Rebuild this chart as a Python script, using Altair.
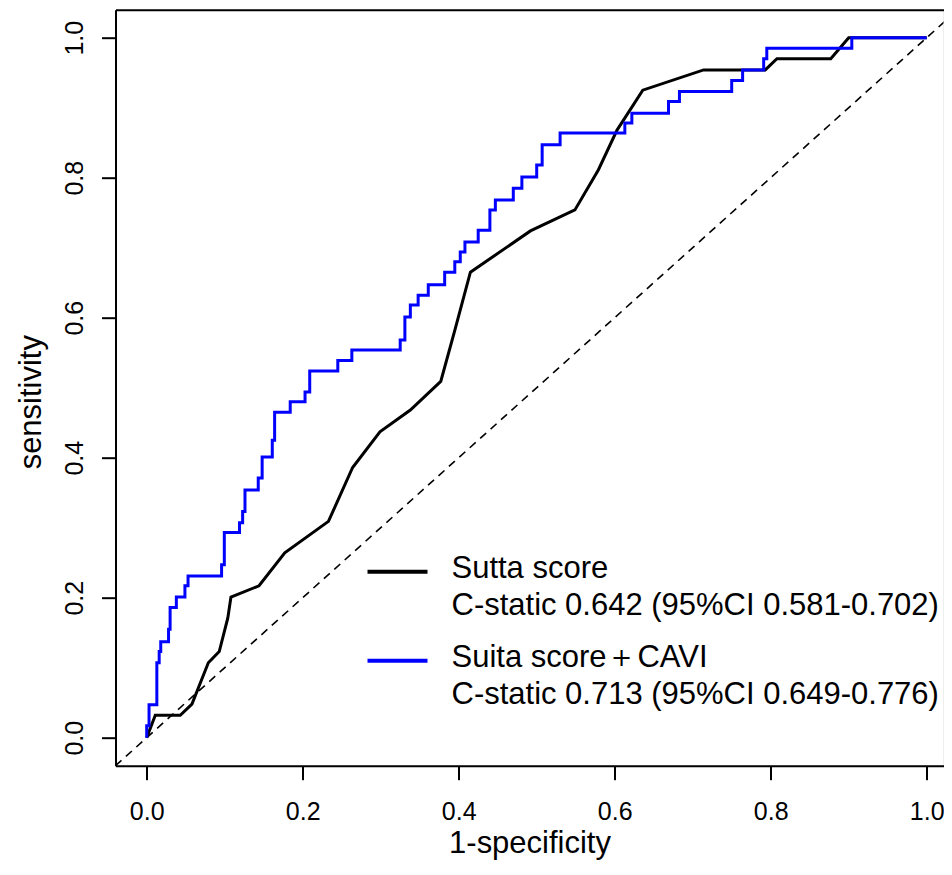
import altair as alt
import pandas as pd

# ---- data ----
series_names = ["Sutta score", "Suita score＋CAVI"]
series_stats = ["C-static 0.642 (95%CI 0.581-0.702)", "C-static 0.713 (95%CI 0.649-0.776)"]
series_colors = ["#000000", "#0000FF"]

sutta_fpr = [0.0, 0.011, 0.043, 0.058, 0.079, 0.093, 0.104, 0.108, 0.144, 0.177, 0.233,
             0.264, 0.299, 0.338, 0.377, 0.395, 0.415, 0.492, 0.549, 0.579, 0.603, 0.636,
             0.714, 0.793, 0.808, 0.877, 0.900, 1.0]
sutta_tpr = [0.0, 0.032, 0.032, 0.048, 0.107, 0.123, 0.171, 0.201, 0.217, 0.264, 0.309,
             0.386, 0.437, 0.468, 0.509, 0.582, 0.665, 0.724, 0.754, 0.811, 0.868, 0.925,
             0.954, 0.954, 0.970, 0.970, 1.0, 1.0]

suita_fpr = [0.0, 0.0, 0.003, 0.003, 0.013, 0.013, 0.016, 0.016, 0.018, 0.018, 0.028, 0.028,
             0.030, 0.030, 0.038, 0.038, 0.049, 0.049, 0.053, 0.053, 0.096, 0.096, 0.0995,
             0.0995, 0.119, 0.119, 0.123, 0.123, 0.126, 0.126, 0.143, 0.143, 0.148, 0.148,
             0.161, 0.161, 0.164, 0.164, 0.184, 0.184, 0.203, 0.203, 0.209, 0.209, 0.245,
             0.245, 0.263, 0.263, 0.325, 0.325, 0.331, 0.331, 0.338, 0.338, 0.348, 0.348,
             0.361, 0.361, 0.382, 0.382, 0.395, 0.395, 0.402, 0.402, 0.408, 0.408, 0.425,
             0.425, 0.440, 0.440, 0.447, 0.447, 0.470, 0.470, 0.481, 0.481, 0.500, 0.500,
             0.507, 0.507, 0.530, 0.530, 0.613, 0.613, 0.622, 0.622, 0.669, 0.669, 0.683,
             0.683, 0.750, 0.750, 0.764, 0.764, 0.791, 0.791, 0.795, 0.795, 0.904, 0.904, 1.0]
suita_tpr = [0.0, 0.017, 0.017, 0.047, 0.047, 0.107, 0.107, 0.123, 0.123, 0.137, 0.137, 0.155,
             0.155, 0.186, 0.186, 0.201, 0.201, 0.217, 0.217, 0.231, 0.231, 0.247, 0.247,
             0.293, 0.293, 0.307, 0.307, 0.323, 0.323, 0.354, 0.354, 0.371, 0.371, 0.401,
             0.401, 0.425, 0.425, 0.465, 0.465, 0.480, 0.480, 0.494, 0.494, 0.524, 0.524,
             0.539, 0.539, 0.554, 0.554, 0.568, 0.568, 0.601, 0.601, 0.618, 0.618, 0.632,
             0.632, 0.647, 0.647, 0.665, 0.665, 0.680, 0.680, 0.694, 0.694, 0.708, 0.708,
             0.725, 0.725, 0.754, 0.754, 0.768, 0.768, 0.785, 0.785, 0.801, 0.801, 0.818,
             0.818, 0.847, 0.847, 0.864, 0.864, 0.878, 0.878, 0.892, 0.892, 0.909, 0.909,
             0.923, 0.923, 0.939, 0.939, 0.954, 0.954, 0.970, 0.970, 0.985, 0.985, 1.0, 1.0]

diag_vals = [-0.04, 1.04]
axis_ticks = [0.0, 0.2, 0.4, 0.6, 0.8, 1.0]

# ---- tables ----
rows = []
for name, fprs, tprs in [(series_names[0], sutta_fpr, sutta_tpr),
                         (series_names[1], suita_fpr, suita_tpr)]:
    for i, (f, t) in enumerate(zip(fprs, tprs)):
        rows.append({"series": name, "fpr": f, "tpr": t, "order": i})
curves = pd.DataFrame(rows)
diag = pd.DataFrame({"fpr": diag_vals, "tpr": diag_vals})

def js(s):
    return "'" + s.replace("'", "\\'") + "'"

label_expr = (
    f"datum.label == {js(series_names[0])} ? [{js(series_names[0])}, {js(series_stats[0])}]"
    f" : [{js(series_names[1])}, {js(series_stats[1])}]"
)

FONT = "Liberation Sans"
PX_PER_UNIT_X = 780
PLOT_W = 828
PLOT_H = 756
x_dom = [-0.04, -0.04 + PLOT_W / PX_PER_UNIT_X]
y_dom = [-0.04, 1.04]

x_scale = alt.Scale(domain=x_dom, nice=False, zero=False)
y_scale = alt.Scale(domain=y_dom, nice=False, zero=False)

common_axis = dict(grid=False, domainColor="black", domainWidth=2, tickColor="black",
                   tickWidth=2, labelColor="black", titleColor="black",
                   labelFont=FONT, titleFont=FONT, titleFontWeight="normal",
                   labelFlush=False, labelOverlap=False)

x_axis = alt.Axis(values=axis_ticks, format=".1f", tickSize=14, labelFontSize=25,
                  labelPadding=20, labelBaseline="top", title="1-specificity",
                  titleFontSize=31, titleBaseline="alphabetic", titleY=87, **common_axis)
y_axis = alt.Axis(values=axis_ticks, format=".1f", tickSize=14, labelFontSize=25,
                  labelAngle=-90, labelAlign="center", labelBaseline="bottom",
                  labelPadding=14, title="sensitivity", titleFontSize=31,
                  titleAngle=-90, titleAlign="center", titleBaseline="alphabetic",
                  titleX=-75.5, titleY=392, **common_axis)
top_axis = alt.Axis(orient="top", labels=False, ticks=False, title=None, grid=False,
                    domainColor="black", domainWidth=2)

curve_layer = alt.Chart(curves).mark_line(strokeWidth=3, clip=True).encode(
    x=alt.X("fpr:Q", scale=x_scale, axis=x_axis),
    y=alt.Y("tpr:Q", scale=y_scale, axis=y_axis),
    color=alt.Color("series:N",
                    scale=alt.Scale(domain=series_names, range=series_colors),
                    legend=alt.Legend(orient="none", legendX=250, legendY=536,
                                      title=None, symbolType="M-1,-0.2H1",
                                      symbolSize=3600, symbolStrokeWidth=4,
                                      labelFontSize=31, labelFont=FONT,
                                      labelColor="black", labelExpr=label_expr,
                                      labelBaseline="alphabetic", labelOffset=22,
                                      labelLimit=0, rowPadding=14, padding=0)),
    order="order:Q",
)

diag_layer = alt.Chart(diag).mark_line(color="black", strokeWidth=1.6,
                                       strokeDash=[8, 6], clip=True).encode(
    x=alt.X("fpr:Q", scale=x_scale, axis=top_axis),
    y=alt.Y("tpr:Q", scale=y_scale, axis=y_axis),
)

chart = alt.layer(diag_layer, curve_layer).resolve_axis(x="independent").properties(
    width=PLOT_W, height=PLOT_H,
    autosize=alt.AutoSizeParams(type="none"),
    padding={"left": 107.5, "top": 1.7, "right": 0, "bottom": 96},
).configure_view(stroke="transparent").configure(
    font=FONT, style={"guide-label": {"lineHeight": 37}}
)

chart.save("out.html", embed_options={"renderer": "svg", "actions": False})
